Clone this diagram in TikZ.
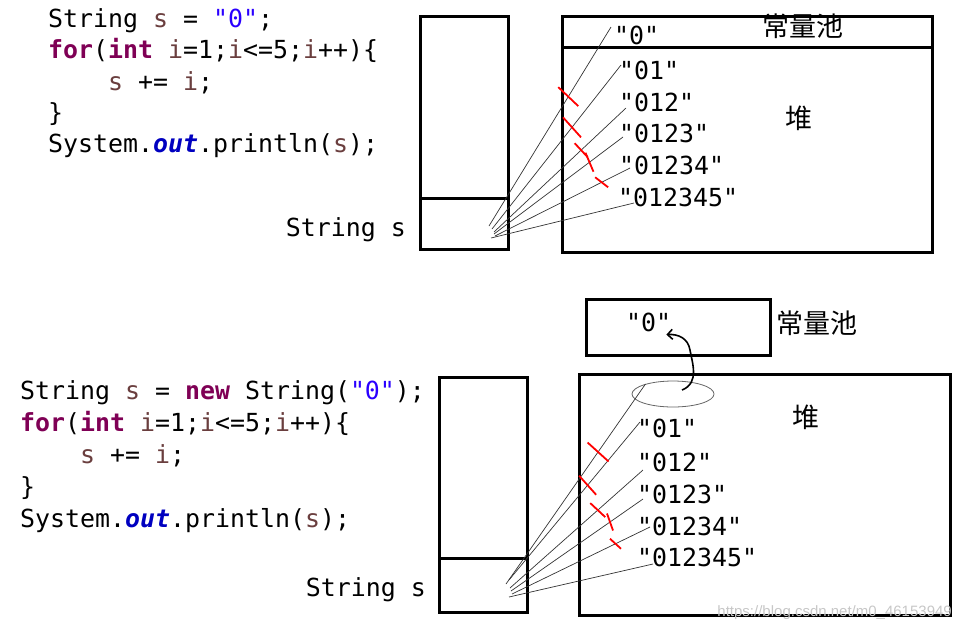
\documentclass[tikz,border=0pt]{standalone}
\usepackage{fontspec}
\setmonofont{DejaVu Sans Mono}
\newfontfamily\cjk{Noto Sans CJK SC}
\newfontfamily\wmfont{Liberation Sans}
\usetikzlibrary{calc,shapes.geometric,arrows.meta}
\definecolor{kwc}{HTML}{7F0055}
\definecolor{lvc}{HTML}{6A3E3E}
\definecolor{stc}{HTML}{2A00FF}
\definecolor{fdc}{HTML}{0000C0}
\newcommand\jkw[1]{\textcolor{kwc}{\bfseries #1}}
\newcommand\jlv[1]{\textcolor{lvc}{#1}}
\newcommand\jstr[1]{\textcolor{stc}{#1}}
\newcommand\jfld[1]{\textcolor{fdc}{\bfseries\itshape #1}}
\begin{document}
\begin{tikzpicture}[x=1pt,y=-1pt,
  code/.style={anchor=base west, inner sep=0pt, font=\ttfamily\fontsize{24.9}{30}\selectfont},
  val/.style={anchor=west, inner sep=0pt, font=\ttfamily\fontsize{24.9}{30}\selectfont},
  zh/.style={inner sep=0pt, font=\cjk\fontsize{27}{32}\selectfont},
  box/.style={draw, line width=3pt, inner sep=0pt, anchor=north west},
  ref/.style={line width=0.7pt, black!80},
  tick/.style={red, line width=1.8pt},
]
\useasboundingbox (0,0) rectangle (964,625);

% ---------- top part ----------
\node[code] (t1) at (48,27) {String \jlv{s} = \jstr{"0"};};
\node[code] (t2) at (48,58) {\jkw{for}(\jkw{int} \jlv{i}=1;\jlv{i}<=5;\jlv{i}++)\{};
\node[code] (t3) at (108,90) {\jlv{s} += \jlv{i};};
\node[code] (t4) at (48,121) {\}};
\node[code] (t5) at (48,152) {System.\jfld{out}.println(\jlv{s});};

\node[box, minimum width=88pt, minimum height=182pt] (stk1) at (419,15) {};
\node[box, minimum width=88pt, minimum height=51pt] (cell1) at (419,197) {};
\node[code, anchor=base east] (lab1) at (406,236) {String s};

\node[box, minimum width=370pt, minimum height=31pt] (pool1) at (561,15) {};
\node[box, minimum width=370pt, minimum height=205pt] (heap1) at (561,46) {};
\node[zh] (zc1) at (803,26) {常量池};
\node[zh] (zd1) at (799,118) {堆};

\node[val] (v0) at (614,35) {"0"};
\node[val] (v1) at (619,70) {"01"};
\node[val] (v2) at (619,102) {"012"};
\node[val] (v3) at (619,133) {"0123"};
\node[val] (v4) at (619,165) {"01234"};
\node[val] (v5) at (618,197) {"012345"};

\coordinate (a0) at (489,226);
\coordinate (a1) at (492,229);
\coordinate (a2) at (494,232);
\coordinate (a3) at (494,234);
\coordinate (a4) at (495,236);
\coordinate (a5) at (491,238);
\coordinate (e0) at ([shift={(-3,-8)}]v0.west);
\coordinate (e1) at ([shift={(2,-5)}]v1.west);
\coordinate (e2) at ([shift={(7,6)}]v2.west);
\coordinate (e3) at ([shift={(4,4)}]v3.west);
\coordinate (e4) at ([shift={(11,3)}]v4.west);
\coordinate (e5) at ([shift={(16,6)}]v5.west);
\foreach \i in {0,...,5} {\draw[ref] (a\i) -- (e\i);}
\draw[tick] ($(a0)!0.65!(e0)$) +(-10,-9.5) -- +(10,9.5);
\draw[tick] ($(a1)!0.62!(e1)$) +(-9,-10) -- +(9,10);
\draw[tick] ($(a2)!0.66!(e2)$) +(-6.5,-7) -- +(6.5,7);
\draw[tick] ($(a3)!0.74!(e3)$) +(-4,-9.5) -- +(4,9.5);
\draw[tick] ($(a4)!0.79!(e4)$) +(-6.5,-5) -- +(6.5,5);

% ---------- bottom part ----------
\node[code] (b1) at (20,399) {String \jlv{s} = \jkw{new} String(\jstr{"0"});};
\node[code] (b2) at (20,431) {\jkw{for}(\jkw{int} \jlv{i}=1;\jlv{i}<=5;\jlv{i}++)\{};
\node[code] (b3) at (80,463) {\jlv{s} += \jlv{i};};
\node[code] (b4) at (20,495) {\}};
\node[code] (b5) at (20,527) {System.\jfld{out}.println(\jlv{s});};

\node[box, minimum width=88pt, minimum height=181pt] (stk2) at (438,376) {};
\node[box, minimum width=88pt, minimum height=54pt] (cell2) at (438,557) {};
\node[code, anchor=base east] (lab2) at (426,596) {String s};

\node[box, minimum width=184pt, minimum height=56pt] (pool2) at (585,298) {};
\node[box, minimum width=371pt, minimum height=241pt] (heap2) at (578,373) {};
\node[zh] (zc2) at (817,323) {常量池};
\node[zh] (zd2) at (806,417) {堆};

\node[val] (p0) at (626,322) {"0"};
\node[ellipse, draw, black!60, line width=0.8pt, minimum width=82pt, minimum height=26pt, inner sep=0pt] (ell) at (673,394) {};

\node[val] (w1) at (637,428) {"01"};
\node[val] (w2) at (637,462) {"012"};
\node[val] (w3) at (637,494) {"0123"};
\node[val] (w4) at (637,526) {"01234"};
\node[val] (w5) at (637,557) {"012345"};

\coordinate (c0) at (506,584);
\coordinate (c1) at (509,580);
\coordinate (c2) at (510,588);
\coordinate (c3) at (511,591);
\coordinate (c4) at (512,594);
\coordinate (c5) at (509,597);
\coordinate (f0) at (ell.160);
\coordinate (f1) at ([shift={(3,-6)}]w1.west);
\coordinate (f2) at ([shift={(6,8)}]w2.west);
\coordinate (f3) at ([shift={(6,5)}]w3.west);
\coordinate (f4) at ([shift={(13,1)}]w4.west);
\coordinate (f5) at ([shift={(16,7)}]w5.west);
\foreach \i in {0,...,5} {\draw[ref] (c\i) -- (f\i);}
\draw[tick] ($(c0)!0.66!(f0)$) +(-10.5,-9.5) -- +(10.5,9.5);
\draw[tick] ($(c1)!0.6!(f1)$) +(-8.5,-9.5) -- +(8.5,9.5);
\draw[tick] ($(c2)!0.66!(f2)$) +(-7.5,-7) -- +(7.5,7);
\draw[tick] ($(c3)!0.75!(f3)$) +(-3,-8.5) -- +(3,8.5);
\draw[tick] ($(c4)!0.75!(f4)$) +(-5.5,-5) -- +(5.5,5);

\coordinate (as) at ([shift={(9,-4)}]ell.center);
\coordinate (ae) at ([shift={(-5,3)}]p0.south east);
\draw[line width=1.6pt, -{Straight Barb[length=5pt,width=10pt]}]
  (as) .. controls (700,383) and (692,362) .. (690,350)
       .. controls (688,338) and (678,334) .. (ae);

\node[anchor=east, text=black!22, inner sep=0pt, font=\wmfont\fontsize{15}{15}\selectfont] (wm) at (952,613) {https://blog.csdn.net/m0\_46153949};
\end{tikzpicture}
\end{document}
